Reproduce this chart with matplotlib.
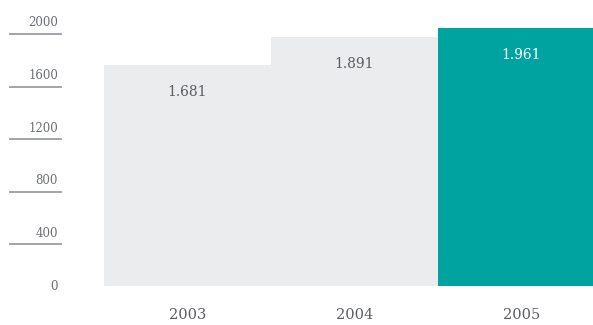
import matplotlib
matplotlib.use("Agg")
import matplotlib.pyplot as plt
from matplotlib.transforms import blended_transform_factory, offset_copy

years = ["2003", "2004", "2005"]
values = [1681, 1891, 1961]
value_labels = ["1.681", "1.891", "1.961"]
yticks = [0, 400, 800, 1200, 1600, 2000]
ytick_labels = ["0", "400", "800", "1200", "1600", "2000"]

bar_colors = ["#EBECEE", "#EBECEE", "#00A39F"]
text_colors = ["#5a5d62", "#5a5d62", "#ffffff"]

plt.rcParams["font.family"] = ["DejaVu Serif"]

fig = plt.figure(figsize=(5.93, 3.25), dpi=100)
ax = fig.add_axes([104 / 593, 39 / 325, 1 - 104 / 593, 263 / 325])

x = list(range(len(years)))
ax.bar(x, values, width=1.0, color=bar_colors, linewidth=0)
ax.set_xlim(-0.5, 2.428)
ax.set_ylim(0, 2000)

for xi, v, lab, tc in zip(x, values, value_labels, text_colors):
    ax.annotate(lab, (xi, v), xytext=(0, -27), textcoords="offset pixels",
                ha="center", va="center", fontsize=10, color=tc)

for s in ax.spines.values():
    s.set_visible(False)
ax.set_xticks(x)
ax.set_xticklabels(years, fontsize=10.5, color="#5a5d62")
ax.tick_params(axis="x", length=0, pad=16)
ax.set_yticks([])

trans = blended_transform_factory(fig.transFigure, ax.transData)
under = offset_copy(trans, fig=fig, x=0, y=-11, units="dots")
for t, lab in zip(yticks, ytick_labels):
    ax.text(58 / 593, t, lab, transform=trans, ha="right", va="center",
            fontsize=8.5, color="#6b6e73", clip_on=False)
    if t != 0:
        ax.plot([10 / 593, 61 / 593], [t, t], transform=under, color="#9a9da2",
                linewidth=1.3, clip_on=False)

fig.savefig("out.png", dpi=100)
